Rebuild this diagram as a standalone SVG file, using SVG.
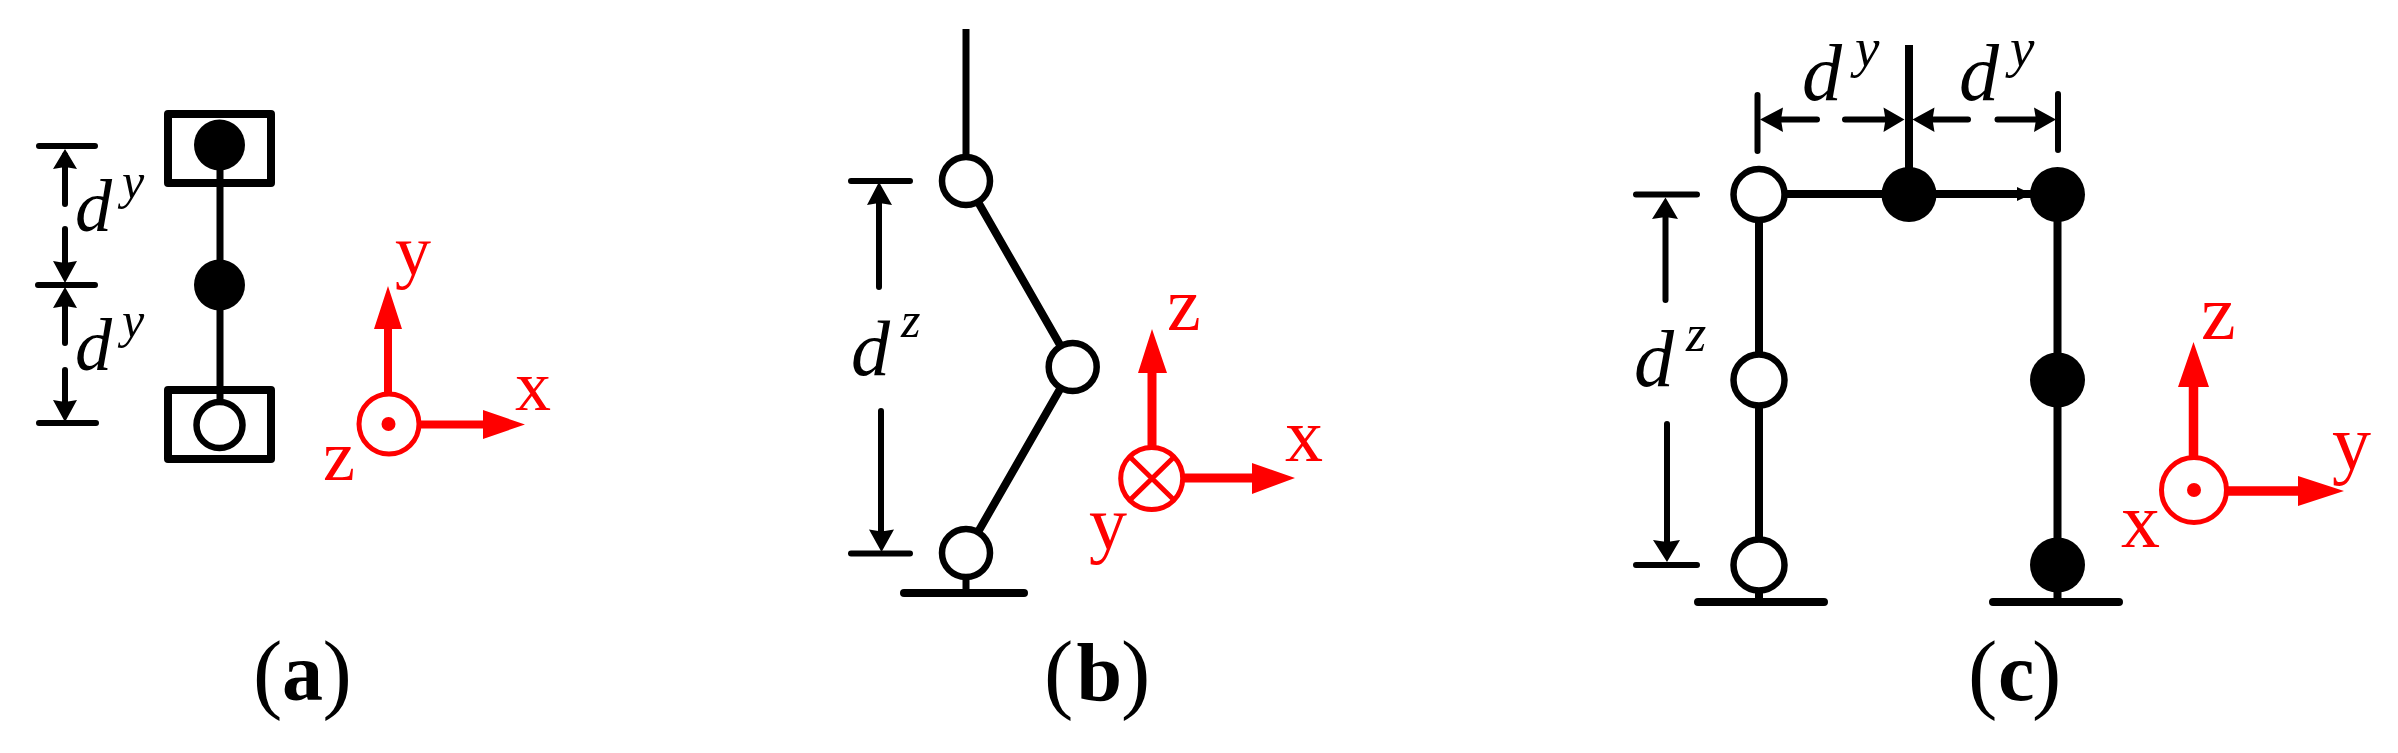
<svg xmlns="http://www.w3.org/2000/svg" width="2398" height="753" viewBox="0 0 2398 753">
<style>
.bar{stroke:#000;stroke-width:7;fill:none}
.thick{stroke:#000;stroke-width:8;fill:none;stroke-linecap:round}
.dim{stroke:#000;stroke-width:6;fill:none;stroke-linecap:round}
.head{fill:#000}
.open{fill:#fff;stroke:#000;stroke-width:6.5}
.full{fill:#000}
.box{fill:none;stroke:#000;stroke-width:8;stroke-linejoin:round}
.axis{stroke:#f00;stroke-width:8;fill:none}
.ring{fill:#fff;stroke:#f00;stroke-width:5}
.rhead{fill:#f00}
.r{font-family:"Liberation Serif","Times New Roman",serif;font-size:76px;fill:#f00}
.d{font:italic 78px "Liberation Serif","Times New Roman",serif;fill:#000}
.s{font:italic 50px "Liberation Serif","Times New Roman",serif;fill:#000}
.cap{font:88px "Liberation Serif","Times New Roman",serif;fill:#000}
.cap tspan{font-weight:bold;font-size:82px}
</style>
<rect width="2398" height="753" fill="#fff"/>
<g id="connectors">
<path class="bar" d="M220 145V425"/>
<path class="dim" d="M39 146H95M38 285H95M39 423H96M65 155V204M65 229V275M65 295V343M65 370V412"/>
<path class="head" d="M65 149L77 169L65 167L53 169ZM65 283L77 261L65 263L53 261ZM65 287L77 308L65 306L53 308ZM65 422L77 400L65 402L53 400Z"/>
<path class="bar" d="M966 29V181"/>
<path class="thick" d="M966 181L1072.700 367L966 553" style="stroke-linecap:butt"/>
<path class="bar" d="M966 553V593"/>
<path class="thick" d="M904 593H1024"/>
<path class="dim" d="M851 181H910M851 553.500H910M879 195V287M881 411V540"/>
<path class="head" d="M879 182L892 205L879 203L867 205ZM881.500 552L894 529.500L881.500 531.500L869 529.500Z"/>
<path class="bar" d="M1909 45V194" style="stroke-width:8"/>
<path class="bar" d="M1759 194H2057M1759 194V602M2057.500 194V602" style="stroke-width:8"/>
<path class="thick" d="M1698 602H1824M1993 602H2119"/>
<path class="head" d="M2032 194L2017 187V201Z"/>
<path class="dim" d="M1757.500 95V151M2058 94V150M1775 119.500H1817M1845 119.500H1890M1925 119.500H1968M1997.500 119.500H2040M1636 194.500H1697M1636 565H1697M1665.500 210V300M1667 424V550"/>
<path class="head" d="M1760 119.500L1783 107.500L1781 119.500L1783 132ZM1904.500 119.500L1883.500 107.500L1885.500 119.500L1883.500 132ZM1912.500 119.500L1934.500 107.500L1932.500 119.500L1934.500 132ZM2056 119.500L2034 107.500L2036 119.500L2034 132ZM1665.500 197.500L1678 219L1665.500 217L1652 219ZM1667 562L1680 540L1667 542L1653 540Z"/>
</g>
<g id="panel-a">
<g id="a-top"><rect class="box" x="168" y="114" width="103" height="69"/><circle class="full" cx="219.500" cy="145" r="25.500"/></g>
<g id="a-mid"><circle class="full" cx="219.500" cy="285" r="25.500"/></g>
<g id="a-bottom"><rect class="box" x="168" y="390" width="103" height="69"/><circle class="open" cx="219.500" cy="425" r="23"/></g>
<g id="a-dims">
<text class="d" x="75" y="231" style="font-size:74px">d</text><text class="s" x="122" y="198">y</text>
<text class="d" x="75" y="370" style="font-size:74px">d</text><text class="s" x="122" y="337">y</text>
</g>
<g id="a-axes">
<path class="axis" d="M388 393V325M420 424.500H485"/>
<path class="rhead" d="M388 286L402 329H374ZM525 424.500L483 410V439Z"/>
<circle class="ring" cx="389" cy="424" r="30"/><circle class="rhead" cx="388.500" cy="424" r="7"/>
<text class="r" x="395" y="275" style="font-size:72px">y</text><text class="r" x="515" y="410" style="font-size:72px">x</text><text class="r" x="323" y="480" style="font-size:72px">z</text>
</g>
<text class="cap" y="702" x="253">(<tspan x="282" y="700">a</tspan><tspan x="322.500" y="702" style="font-weight:normal;font-size:88px">)</tspan></text>
</g>
<g id="panel-b">
<g id="b-top"><circle class="open" cx="966" cy="181" r="24"/></g>
<g id="b-mid"><circle class="open" cx="1072.700" cy="367" r="24"/></g>
<g id="b-bottom"><circle class="open" cx="966" cy="553" r="24"/></g>
<g id="b-dims"><text class="d" x="851" y="374.500">d</text><text class="s" x="901" y="337">z</text></g>
<g id="b-axes">
<path class="axis" style="stroke-width:9" d="M1152 446V370M1182 478H1254"/>
<path class="rhead" d="M1152 329L1167 373H1138ZM1295 478L1252 463V494Z"/>
<circle class="ring" cx="1151.700" cy="478.500" r="31"/>
<path class="axis" style="stroke-width:5" d="M1130 457L1174 500M1174 457L1130 500"/>
<text class="r" x="1167" y="330">z</text><text class="r" x="1285" y="461">x</text><text class="r" x="1089" y="549">y</text>
</g>
<text class="cap" y="702" x="1044">(<tspan x="1076.500" y="700">b</tspan><tspan x="1121" y="702" style="font-weight:normal;font-size:88px">)</tspan></text>
</g>
<g id="panel-c">
<g id="c-l1"><circle class="open" cx="1759" cy="194.500" r="25.500"/></g>
<g id="c-l2"><circle class="open" cx="1759" cy="380" r="25.500"/></g>
<g id="c-l3"><circle class="open" cx="1759" cy="565" r="25.500"/></g>
<g id="c-m1"><circle class="full" cx="1909" cy="194.500" r="27.500"/></g>
<g id="c-r1"><circle class="full" cx="2057.500" cy="194.500" r="27.500"/></g>
<g id="c-r2"><circle class="full" cx="2057.500" cy="380" r="27.500"/></g>
<g id="c-r3"><circle class="full" cx="2057.500" cy="565" r="27.500"/></g>
<g id="c-dims">
<text class="d" x="1802" y="100" style="font-size:80px">d</text><text class="s" x="1855" y="66" style="font-size:55px">y</text>
<text class="d" x="1959" y="100" style="font-size:80px">d</text><text class="s" x="2010" y="66" style="font-size:55px">y</text>
<text class="d" x="1634" y="386" style="font-size:80px">d</text><text class="s" x="1686" y="351" style="font-size:52px">z</text>
</g>
<g id="c-axes">
<path class="axis" style="stroke-width:9.500" d="M2193.500 458V385M2227 491H2300"/>
<path class="rhead" d="M2193.500 342L2209 387H2178ZM2344 491L2298 476V506Z"/>
<circle class="ring" cx="2194" cy="490" r="32.500"/><circle class="rhead" cx="2194" cy="490" r="7"/>
<text class="r" x="2201" y="339" style="font-size:78px">z</text><text class="r" x="2332" y="469" style="font-size:78px">y</text><text class="r" x="2121" y="547" style="font-size:78px">x</text>
</g>
<text class="cap" y="702" x="1968">(<tspan x="1998" y="700">c</tspan><tspan x="2032" y="702" style="font-weight:normal;font-size:88px">)</tspan></text>
</g>
</svg>
